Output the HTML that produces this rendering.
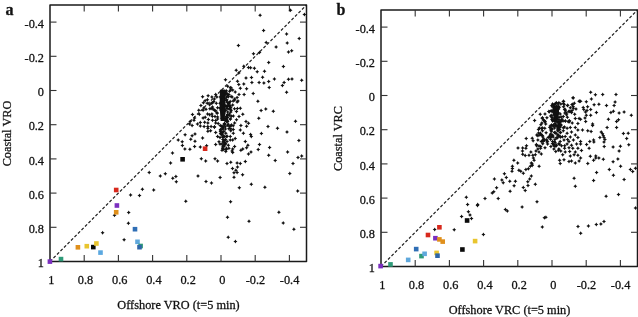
<!DOCTYPE html>
<html><head><meta charset="utf-8"><style>
html,body{margin:0;padding:0;background:#fff;width:638px;height:317px;overflow:hidden}
svg{display:block;will-change:transform} text{stroke:#111;stroke-width:0.28px}
</style></head><body>
<svg width="638" height="317" viewBox="0 0 638 317" font-family='"Liberation Serif", serif' font-size="12.3" fill="#111" stroke-linejoin="round">
<defs><path id="m" d="M0,-2 L0.75,-0.75 L2,0 L0.75,0.75 L0,2 L-0.75,0.75 L-2,0 L-0.75,-0.75Z" fill="#111"/></defs>
<line x1="50.00" y1="261.50" x2="306.50" y2="5.00" stroke="#1e1e1e" stroke-width="1.2" stroke-dasharray="3,1.95"/>
<rect x="50.0" y="5.0" width="256.5" height="256.5" fill="none" stroke="#1a1a1a" stroke-width="1.5"/>
<text x="44.0" y="267.1" text-anchor="end">1</text>
<text x="51.3" y="283.5" text-anchor="middle">1</text>
<line x1="84.2" y1="261.5" x2="84.2" y2="255.0" stroke="#333" stroke-width="1.1"/>
<line x1="84.2" y1="5.0" x2="84.2" y2="11.5" stroke="#333" stroke-width="1.1"/>
<line x1="50.0" y1="227.3" x2="56.5" y2="227.3" stroke="#333" stroke-width="1.1"/>
<line x1="306.5" y1="227.3" x2="300.0" y2="227.3" stroke="#333" stroke-width="1.1"/>
<text x="44.0" y="232.9" text-anchor="end">0.8</text>
<text x="85.5" y="283.5" text-anchor="middle">0.8</text>
<line x1="118.4" y1="261.5" x2="118.4" y2="255.0" stroke="#333" stroke-width="1.1"/>
<line x1="118.4" y1="5.0" x2="118.4" y2="11.5" stroke="#333" stroke-width="1.1"/>
<line x1="50.0" y1="193.1" x2="56.5" y2="193.1" stroke="#333" stroke-width="1.1"/>
<line x1="306.5" y1="193.1" x2="300.0" y2="193.1" stroke="#333" stroke-width="1.1"/>
<text x="44.0" y="198.7" text-anchor="end">0.6</text>
<text x="119.7" y="283.5" text-anchor="middle">0.6</text>
<line x1="152.6" y1="261.5" x2="152.6" y2="255.0" stroke="#333" stroke-width="1.1"/>
<line x1="152.6" y1="5.0" x2="152.6" y2="11.5" stroke="#333" stroke-width="1.1"/>
<line x1="50.0" y1="158.9" x2="56.5" y2="158.9" stroke="#333" stroke-width="1.1"/>
<line x1="306.5" y1="158.9" x2="300.0" y2="158.9" stroke="#333" stroke-width="1.1"/>
<text x="44.0" y="164.5" text-anchor="end">0.4</text>
<text x="153.9" y="283.5" text-anchor="middle">0.4</text>
<line x1="186.8" y1="261.5" x2="186.8" y2="255.0" stroke="#333" stroke-width="1.1"/>
<line x1="186.8" y1="5.0" x2="186.8" y2="11.5" stroke="#333" stroke-width="1.1"/>
<line x1="50.0" y1="124.7" x2="56.5" y2="124.7" stroke="#333" stroke-width="1.1"/>
<line x1="306.5" y1="124.7" x2="300.0" y2="124.7" stroke="#333" stroke-width="1.1"/>
<text x="44.0" y="130.3" text-anchor="end">0.2</text>
<text x="188.1" y="283.5" text-anchor="middle">0.2</text>
<line x1="221.0" y1="261.5" x2="221.0" y2="255.0" stroke="#333" stroke-width="1.1"/>
<line x1="221.0" y1="5.0" x2="221.0" y2="11.5" stroke="#333" stroke-width="1.1"/>
<line x1="50.0" y1="90.5" x2="56.5" y2="90.5" stroke="#333" stroke-width="1.1"/>
<line x1="306.5" y1="90.5" x2="300.0" y2="90.5" stroke="#333" stroke-width="1.1"/>
<text x="44.0" y="96.1" text-anchor="end">0</text>
<text x="222.3" y="283.5" text-anchor="middle">0</text>
<line x1="255.2" y1="261.5" x2="255.2" y2="255.0" stroke="#333" stroke-width="1.1"/>
<line x1="255.2" y1="5.0" x2="255.2" y2="11.5" stroke="#333" stroke-width="1.1"/>
<line x1="50.0" y1="56.3" x2="56.5" y2="56.3" stroke="#333" stroke-width="1.1"/>
<line x1="306.5" y1="56.3" x2="300.0" y2="56.3" stroke="#333" stroke-width="1.1"/>
<text x="44.0" y="61.9" text-anchor="end">-0.2</text>
<text x="255.4" y="283.5" text-anchor="middle">-0.2</text>
<line x1="289.4" y1="261.5" x2="289.4" y2="255.0" stroke="#333" stroke-width="1.1"/>
<line x1="289.4" y1="5.0" x2="289.4" y2="11.5" stroke="#333" stroke-width="1.1"/>
<line x1="50.0" y1="22.1" x2="56.5" y2="22.1" stroke="#333" stroke-width="1.1"/>
<line x1="306.5" y1="22.1" x2="300.0" y2="22.1" stroke="#333" stroke-width="1.1"/>
<text x="44.0" y="27.7" text-anchor="end">-0.4</text>
<text x="289.6" y="283.5" text-anchor="middle">-0.4</text>
<text x="178.5" y="308.6" text-anchor="middle">Offshore VRO (t=5 min)</text>
<text transform="translate(11.4,133.5) rotate(-90)" text-anchor="middle">Coastal VRO</text>
<text x="5.6" y="15.2" font-weight="bold" font-size="16">a</text>
<line x1="381.00" y1="266.50" x2="637.50" y2="10.00" stroke="#1e1e1e" stroke-width="1.2" stroke-dasharray="3,1.95"/>
<rect x="381.0" y="10.0" width="256.5" height="256.5" fill="none" stroke="#1a1a1a" stroke-width="1.5"/>
<text x="375.0" y="272.1" text-anchor="end">1</text>
<text x="382.3" y="288.5" text-anchor="middle">1</text>
<line x1="415.2" y1="266.5" x2="415.2" y2="260.0" stroke="#333" stroke-width="1.1"/>
<line x1="415.2" y1="10.0" x2="415.2" y2="16.5" stroke="#333" stroke-width="1.1"/>
<line x1="381.0" y1="232.3" x2="387.5" y2="232.3" stroke="#333" stroke-width="1.1"/>
<line x1="637.5" y1="232.3" x2="631.0" y2="232.3" stroke="#333" stroke-width="1.1"/>
<text x="375.0" y="237.9" text-anchor="end">0.8</text>
<text x="416.5" y="288.5" text-anchor="middle">0.8</text>
<line x1="449.4" y1="266.5" x2="449.4" y2="260.0" stroke="#333" stroke-width="1.1"/>
<line x1="449.4" y1="10.0" x2="449.4" y2="16.5" stroke="#333" stroke-width="1.1"/>
<line x1="381.0" y1="198.1" x2="387.5" y2="198.1" stroke="#333" stroke-width="1.1"/>
<line x1="637.5" y1="198.1" x2="631.0" y2="198.1" stroke="#333" stroke-width="1.1"/>
<text x="375.0" y="203.7" text-anchor="end">0.6</text>
<text x="450.7" y="288.5" text-anchor="middle">0.6</text>
<line x1="483.6" y1="266.5" x2="483.6" y2="260.0" stroke="#333" stroke-width="1.1"/>
<line x1="483.6" y1="10.0" x2="483.6" y2="16.5" stroke="#333" stroke-width="1.1"/>
<line x1="381.0" y1="163.9" x2="387.5" y2="163.9" stroke="#333" stroke-width="1.1"/>
<line x1="637.5" y1="163.9" x2="631.0" y2="163.9" stroke="#333" stroke-width="1.1"/>
<text x="375.0" y="169.5" text-anchor="end">0.4</text>
<text x="484.9" y="288.5" text-anchor="middle">0.4</text>
<line x1="517.8" y1="266.5" x2="517.8" y2="260.0" stroke="#333" stroke-width="1.1"/>
<line x1="517.8" y1="10.0" x2="517.8" y2="16.5" stroke="#333" stroke-width="1.1"/>
<line x1="381.0" y1="129.7" x2="387.5" y2="129.7" stroke="#333" stroke-width="1.1"/>
<line x1="637.5" y1="129.7" x2="631.0" y2="129.7" stroke="#333" stroke-width="1.1"/>
<text x="375.0" y="135.3" text-anchor="end">0.2</text>
<text x="519.1" y="288.5" text-anchor="middle">0.2</text>
<line x1="552.0" y1="266.5" x2="552.0" y2="260.0" stroke="#333" stroke-width="1.1"/>
<line x1="552.0" y1="10.0" x2="552.0" y2="16.5" stroke="#333" stroke-width="1.1"/>
<line x1="381.0" y1="95.5" x2="387.5" y2="95.5" stroke="#333" stroke-width="1.1"/>
<line x1="637.5" y1="95.5" x2="631.0" y2="95.5" stroke="#333" stroke-width="1.1"/>
<text x="375.0" y="101.1" text-anchor="end">0</text>
<text x="553.3" y="288.5" text-anchor="middle">0</text>
<line x1="586.2" y1="266.5" x2="586.2" y2="260.0" stroke="#333" stroke-width="1.1"/>
<line x1="586.2" y1="10.0" x2="586.2" y2="16.5" stroke="#333" stroke-width="1.1"/>
<line x1="381.0" y1="61.3" x2="387.5" y2="61.3" stroke="#333" stroke-width="1.1"/>
<line x1="637.5" y1="61.3" x2="631.0" y2="61.3" stroke="#333" stroke-width="1.1"/>
<text x="375.0" y="66.9" text-anchor="end">-0.2</text>
<text x="586.4" y="288.5" text-anchor="middle">-0.2</text>
<line x1="620.4" y1="266.5" x2="620.4" y2="260.0" stroke="#333" stroke-width="1.1"/>
<line x1="620.4" y1="10.0" x2="620.4" y2="16.5" stroke="#333" stroke-width="1.1"/>
<line x1="381.0" y1="27.1" x2="387.5" y2="27.1" stroke="#333" stroke-width="1.1"/>
<line x1="637.5" y1="27.1" x2="631.0" y2="27.1" stroke="#333" stroke-width="1.1"/>
<text x="375.0" y="32.7" text-anchor="end">-0.4</text>
<text x="620.6" y="288.5" text-anchor="middle">-0.4</text>
<text x="509.5" y="313.6" text-anchor="middle">Offshore VRC (t=5 min)</text>
<text transform="translate(342.4,138.5) rotate(-90)" text-anchor="middle">Coastal VRC</text>
<text x="336.6" y="14.9" font-weight="bold" font-size="16">b</text>
<g><polygon points="219.9,89.8 225,89.4 225.6,100 225.3,113 224.4,121 220.6,121 219.6,106" fill="#111"/><use href="#m" x="260.1" y="15.3"/><use href="#m" x="263.6" y="30.5"/><use href="#m" x="286.6" y="34.0"/><use href="#m" x="287.2" y="43.1"/><use href="#m" x="266.2" y="42.5"/><use href="#m" x="290.5" y="10.3"/><use href="#m" x="304.4" y="14.5"/><use href="#m" x="299.2" y="38.4"/><use href="#m" x="238.4" y="45.6"/><use href="#m" x="243.8" y="66.2"/><use href="#m" x="236.2" y="70.2"/><use href="#m" x="238.8" y="73.0"/><use href="#m" x="248.5" y="67.5"/><use href="#m" x="225.5" y="79.7"/><use href="#m" x="237.5" y="81.2"/><use href="#m" x="246.0" y="78.1"/><use href="#m" x="243.8" y="84.1"/><use href="#m" x="238.8" y="84.4"/><use href="#m" x="276.1" y="47.1"/><use href="#m" x="288.5" y="51.9"/><use href="#m" x="253.5" y="53.8"/><use href="#m" x="259.5" y="52.6"/><use href="#m" x="268.7" y="62.4"/><use href="#m" x="283.4" y="66.5"/><use href="#m" x="250.6" y="67.7"/><use href="#m" x="254.4" y="68.3"/><use href="#m" x="257.2" y="71.8"/><use href="#m" x="264.5" y="71.2"/><use href="#m" x="251.5" y="77.6"/><use href="#m" x="262.6" y="77.2"/><use href="#m" x="274.4" y="79.1"/><use href="#m" x="288.5" y="79.3"/><use href="#m" x="251.9" y="82.6"/><use href="#m" x="259.1" y="82.5"/><use href="#m" x="263.9" y="83.1"/><use href="#m" x="268.7" y="81.6"/><use href="#m" x="284.1" y="82.5"/><use href="#m" x="291.7" y="50.7"/><use href="#m" x="292.0" y="79.1"/><use href="#m" x="301.7" y="80.3"/><use href="#m" x="208.1" y="95.7"/><use href="#m" x="205.1" y="100.8"/><use href="#m" x="203.4" y="102.7"/><use href="#m" x="207.2" y="103.3"/><use href="#m" x="200.9" y="105.4"/><use href="#m" x="203.8" y="108.0"/><use href="#m" x="206.0" y="109.2"/><use href="#m" x="203.1" y="110.2"/><use href="#m" x="198.8" y="110.2"/><use href="#m" x="199.3" y="114.3"/><use href="#m" x="207.6" y="114.0"/><use href="#m" x="194.6" y="118.1"/><use href="#m" x="203.1" y="118.1"/><use href="#m" x="194.0" y="120.3"/><use href="#m" x="190.2" y="121.6"/><use href="#m" x="200.3" y="122.6"/><use href="#m" x="204.7" y="122.2"/><use href="#m" x="207.9" y="122.9"/><use href="#m" x="189.6" y="123.9"/><use href="#m" x="197.5" y="123.9"/><use href="#m" x="227.7" y="86.3"/><use href="#m" x="226.2" y="90.7"/><use href="#m" x="230.8" y="90.0"/><use href="#m" x="235.2" y="91.9"/><use href="#m" x="240.3" y="88.2"/><use href="#m" x="246.6" y="88.8"/><use href="#m" x="239.0" y="94.5"/><use href="#m" x="244.1" y="94.5"/><use href="#m" x="228.9" y="94.5"/><use href="#m" x="232.1" y="97.0"/><use href="#m" x="237.1" y="97.6"/><use href="#m" x="234.6" y="100.1"/><use href="#m" x="230.2" y="101.4"/><use href="#m" x="237.1" y="102.0"/><use href="#m" x="240.3" y="108.3"/><use href="#m" x="236.5" y="111.5"/><use href="#m" x="230.2" y="109.0"/><use href="#m" x="227.0" y="108.3"/><use href="#m" x="230.8" y="112.1"/><use href="#m" x="242.8" y="114.3"/><use href="#m" x="233.3" y="115.9"/><use href="#m" x="227.7" y="115.3"/><use href="#m" x="239.0" y="116.5"/><use href="#m" x="230.2" y="119.1"/><use href="#m" x="236.5" y="119.7"/><use href="#m" x="246.0" y="121.6"/><use href="#m" x="248.5" y="123.2"/><use href="#m" x="227.7" y="121.6"/><use href="#m" x="234.6" y="122.9"/><use href="#m" x="211.9" y="97.0"/><use href="#m" x="215.7" y="94.5"/><use href="#m" x="214.4" y="98.9"/><use href="#m" x="216.9" y="97.0"/><use href="#m" x="213.8" y="101.4"/><use href="#m" x="211.3" y="103.3"/><use href="#m" x="216.3" y="103.3"/><use href="#m" x="212.5" y="107.1"/><use href="#m" x="217.6" y="107.7"/><use href="#m" x="214.4" y="110.2"/><use href="#m" x="216.9" y="112.8"/><use href="#m" x="211.9" y="114.0"/><use href="#m" x="215.0" y="116.5"/><use href="#m" x="217.6" y="119.1"/><use href="#m" x="212.5" y="120.3"/><use href="#m" x="215.7" y="122.9"/><use href="#m" x="218.2" y="123.5"/><use href="#m" x="269.2" y="87.5"/><use href="#m" x="282.4" y="85.6"/><use href="#m" x="286.6" y="92.2"/><use href="#m" x="253.2" y="93.6"/><use href="#m" x="257.9" y="101.2"/><use href="#m" x="261.1" y="110.5"/><use href="#m" x="265.8" y="109.0"/><use href="#m" x="273.3" y="111.2"/><use href="#m" x="258.8" y="118.2"/><use href="#m" x="295.5" y="121.2"/><use href="#m" x="192.1" y="125.6"/><use href="#m" x="200.3" y="126.0"/><use href="#m" x="204.1" y="126.5"/><use href="#m" x="207.9" y="128.2"/><use href="#m" x="207.9" y="131.3"/><use href="#m" x="185.1" y="134.8"/><use href="#m" x="192.1" y="135.7"/><use href="#m" x="195.0" y="134.1"/><use href="#m" x="202.6" y="138.0"/><use href="#m" x="190.8" y="139.3"/><use href="#m" x="178.2" y="139.9"/><use href="#m" x="195.0" y="141.2"/><use href="#m" x="182.2" y="141.8"/><use href="#m" x="182.4" y="145.4"/><use href="#m" x="194.6" y="146.5"/><use href="#m" x="200.3" y="147.1"/><use href="#m" x="206.6" y="145.8"/><use href="#m" x="184.9" y="149.0"/><use href="#m" x="189.9" y="149.2"/><use href="#m" x="172.5" y="153.0"/><use href="#m" x="201.3" y="158.8"/><use href="#m" x="205.7" y="161.0"/><use href="#m" x="170.6" y="162.9"/><use href="#m" x="214.4" y="127.3"/><use href="#m" x="210.6" y="130.7"/><use href="#m" x="215.7" y="132.6"/><use href="#m" x="221.4" y="126.3"/><use href="#m" x="223.2" y="127.5"/><use href="#m" x="220.7" y="130.7"/><use href="#m" x="223.9" y="131.3"/><use href="#m" x="225.8" y="133.2"/><use href="#m" x="222.0" y="134.5"/><use href="#m" x="222.6" y="137.0"/><use href="#m" x="226.4" y="136.4"/><use href="#m" x="228.9" y="128.8"/><use href="#m" x="230.8" y="130.7"/><use href="#m" x="233.3" y="129.4"/><use href="#m" x="233.3" y="133.2"/><use href="#m" x="240.3" y="130.0"/><use href="#m" x="243.4" y="133.2"/><use href="#m" x="240.9" y="125.6"/><use href="#m" x="246.6" y="126.3"/><use href="#m" x="230.2" y="140.1"/><use href="#m" x="227.0" y="141.4"/><use href="#m" x="223.2" y="141.4"/><use href="#m" x="235.2" y="138.6"/><use href="#m" x="232.7" y="140.1"/><use href="#m" x="222.0" y="143.9"/><use href="#m" x="225.1" y="144.6"/><use href="#m" x="228.3" y="145.2"/><use href="#m" x="222.6" y="147.1"/><use href="#m" x="226.4" y="148.3"/><use href="#m" x="228.9" y="148.3"/><use href="#m" x="234.6" y="146.5"/><use href="#m" x="232.7" y="149.0"/><use href="#m" x="215.7" y="144.6"/><use href="#m" x="245.3" y="141.4"/><use href="#m" x="247.9" y="145.2"/><use href="#m" x="246.6" y="147.7"/><use href="#m" x="222.0" y="150.2"/><use href="#m" x="225.8" y="151.5"/><use href="#m" x="232.1" y="150.9"/><use href="#m" x="232.7" y="152.5"/><use href="#m" x="240.9" y="150.2"/><use href="#m" x="242.8" y="149.0"/><use href="#m" x="248.5" y="154.0"/><use href="#m" x="215.0" y="158.8"/><use href="#m" x="217.6" y="161.0"/><use href="#m" x="230.8" y="162.2"/><use href="#m" x="227.0" y="163.5"/><use href="#m" x="237.1" y="162.9"/><use href="#m" x="240.3" y="163.5"/><use href="#m" x="245.3" y="161.6"/><use href="#m" x="268.0" y="126.5"/><use href="#m" x="277.5" y="128.2"/><use href="#m" x="287.0" y="131.9"/><use href="#m" x="261.4" y="133.6"/><use href="#m" x="250.6" y="134.5"/><use href="#m" x="251.3" y="136.4"/><use href="#m" x="259.5" y="144.6"/><use href="#m" x="269.6" y="147.5"/><use href="#m" x="258.2" y="149.6"/><use href="#m" x="251.0" y="151.9"/><use href="#m" x="287.6" y="152.1"/><use href="#m" x="268.7" y="155.3"/><use href="#m" x="275.2" y="160.6"/><use href="#m" x="298.9" y="140.4"/><use href="#m" x="298.0" y="157.6"/><use href="#m" x="301.7" y="155.9"/><use href="#m" x="293.0" y="163.5"/><use href="#m" x="149.2" y="172.6"/><use href="#m" x="160.3" y="176.0"/><use href="#m" x="165.3" y="173.8"/><use href="#m" x="142.4" y="189.2"/><use href="#m" x="153.7" y="190.0"/><use href="#m" x="130.6" y="194.9"/><use href="#m" x="139.5" y="195.5"/><use href="#m" x="172.8" y="178.2"/><use href="#m" x="175.9" y="176.4"/><use href="#m" x="176.3" y="181.7"/><use href="#m" x="198.0" y="176.1"/><use href="#m" x="206.0" y="181.4"/><use href="#m" x="185.8" y="201.3"/><use href="#m" x="232.5" y="168.5"/><use href="#m" x="237.5" y="166.9"/><use href="#m" x="235.9" y="170.3"/><use href="#m" x="234.0" y="172.8"/><use href="#m" x="237.1" y="172.6"/><use href="#m" x="242.6" y="174.8"/><use href="#m" x="234.0" y="177.2"/><use href="#m" x="220.1" y="177.6"/><use href="#m" x="211.5" y="183.0"/><use href="#m" x="239.3" y="187.7"/><use href="#m" x="230.6" y="201.8"/><use href="#m" x="251.3" y="184.2"/><use href="#m" x="264.9" y="187.3"/><use href="#m" x="289.8" y="173.6"/><use href="#m" x="297.7" y="190.9"/><use href="#m" x="102.6" y="232.8"/><use href="#m" x="114.5" y="215.3"/><use href="#m" x="128.7" y="212.6"/><use href="#m" x="128.4" y="223.3"/><use href="#m" x="124.1" y="239.7"/><use href="#m" x="227.5" y="217.2"/><use href="#m" x="249.0" y="221.2"/><use href="#m" x="228.2" y="237.3"/><use href="#m" x="235.4" y="241.5"/><use href="#m" x="278.9" y="212.3"/><use href="#m" x="283.2" y="223.1"/><use href="#m" x="293.9" y="229.2"/><use href="#m" x="213.0" y="109.0"/><use href="#m" x="212.3" y="116.2"/><use href="#m" x="217.6" y="117.0"/><use href="#m" x="215.7" y="120.4"/><use href="#m" x="211.1" y="126.5"/><use href="#m" x="214.5" y="126.8"/><use href="#m" x="217.2" y="113.2"/><use href="#m" x="227.4" y="115.8"/><use href="#m" x="230.5" y="118.9"/><use href="#m" x="228.2" y="124.2"/><use href="#m" x="229.0" y="109.0"/><use href="#m" x="230.8" y="128.7"/><use href="#m" x="226.5" y="100.5"/><use href="#m" x="228.5" y="103.5"/><use href="#m" x="226.0" y="106.0"/><use href="#m" x="229.5" y="106.5"/><use href="#m" x="225.5" y="110.5"/><use href="#m" x="226.5" y="97.0"/><use href="#m" x="225.8" y="93.5"/><use href="#m" x="224.2" y="113.1"/><use href="#m" x="224.5" y="98.4"/><use href="#m" x="220.7" y="109.9"/><use href="#m" x="222.3" y="113.9"/><use href="#m" x="222.6" y="115.2"/><use href="#m" x="222.5" y="103.6"/><use href="#m" x="222.3" y="103.9"/><use href="#m" x="222.2" y="111.9"/><use href="#m" x="222.8" y="117.1"/><use href="#m" x="225.9" y="91.9"/><use href="#m" x="224.1" y="118.2"/><use href="#m" x="222.6" y="102.1"/><use href="#m" x="222.6" y="91.8"/><use href="#m" x="223.8" y="97.4"/><use href="#m" x="220.7" y="97.8"/><use href="#m" x="223.0" y="97.7"/><use href="#m" x="222.6" y="99.4"/><use href="#m" x="223.9" y="91.6"/><use href="#m" x="223.3" y="109.6"/><use href="#m" x="220.7" y="96.4"/><use href="#m" x="225.3" y="94.5"/><use href="#m" x="222.2" y="100.6"/><use href="#m" x="221.9" y="118.2"/><use href="#m" x="220.0" y="103.2"/><use href="#m" x="223.4" y="99.8"/><use href="#m" x="220.3" y="108.0"/><use href="#m" x="224.4" y="105.7"/><use href="#m" x="220.3" y="108.1"/><use href="#m" x="223.4" y="114.1"/><use href="#m" x="222.5" y="103.0"/><use href="#m" x="224.3" y="140.5"/><use href="#m" x="225.5" y="139.6"/><use href="#m" x="221.3" y="134.3"/><use href="#m" x="224.7" y="142.9"/><use href="#m" x="220.8" y="133.7"/><use href="#m" x="222.7" y="118.9"/><use href="#m" x="226.3" y="149.5"/><use href="#m" x="223.9" y="137.0"/><use href="#m" x="221.9" y="134.1"/><use href="#m" x="223.8" y="149.4"/><use href="#m" x="223.4" y="145.5"/><use href="#m" x="220.3" y="125.4"/><use href="#m" x="217.6" y="136.5"/><use href="#m" x="222.5" y="132.7"/><use href="#m" x="222.7" y="148.6"/><use href="#m" x="225.8" y="118.2"/><use href="#m" x="223.9" y="146.4"/><use href="#m" x="219.0" y="141.7"/><use href="#m" x="224.0" y="136.0"/><use href="#m" x="220.5" y="131.6"/><use href="#m" x="227.2" y="136.2"/><use href="#m" x="224.5" y="124.4"/><use href="#m" x="220.5" y="129.4"/><use href="#m" x="222.9" y="129.1"/><use href="#m" x="220.0" y="137.6"/><use href="#m" x="222.3" y="132.7"/><use href="#m" x="224.6" y="123.7"/><use href="#m" x="223.3" y="136.7"/><use href="#m" x="225.5" y="143.5"/><use href="#m" x="220.0" y="144.1"/><use href="#m" x="222.9" y="139.5"/><use href="#m" x="227.2" y="120.7"/><use href="#m" x="223.4" y="142.2"/><use href="#m" x="223.0" y="126.0"/><use href="#m" x="225.4" y="129.0"/><use href="#m" x="225.0" y="120.2"/><use href="#m" x="224.4" y="123.4"/><use href="#m" x="225.3" y="126.7"/><use href="#m" x="222.4" y="128.3"/><use href="#m" x="220.6" y="133.2"/><use href="#m" x="231.4" y="116.2"/><use href="#m" x="227.6" y="117.5"/><use href="#m" x="233.2" y="125.8"/><use href="#m" x="227.3" y="114.7"/><use href="#m" x="225.4" y="105.9"/><use href="#m" x="229.5" y="115.2"/><use href="#m" x="231.4" y="125.1"/><use href="#m" x="231.1" y="125.6"/><use href="#m" x="227.6" y="106.0"/><use href="#m" x="230.3" y="136.4"/><use href="#m" x="229.9" y="105.8"/><use href="#m" x="229.6" y="126.4"/><use href="#m" x="226.4" y="121.4"/><use href="#m" x="227.5" y="125.2"/><use href="#m" x="230.3" y="106.1"/><use href="#m" x="233.1" y="101.1"/><use href="#m" x="226.9" y="117.0"/><use href="#m" x="226.5" y="119.4"/><use href="#m" x="228.4" y="96.7"/><use href="#m" x="228.5" y="104.9"/><use href="#m" x="229.0" y="102.7"/><use href="#m" x="231.0" y="87.8"/><use href="#m" x="227.2" y="102.2"/><use href="#m" x="232.7" y="90.1"/><use href="#m" x="227.7" y="96.0"/><use href="#m" x="227.0" y="108.5"/><use href="#m" x="229.4" y="114.1"/><use href="#m" x="227.1" y="105.9"/><use href="#m" x="231.2" y="110.3"/><use href="#m" x="227.7" y="111.9"/><use href="#m" x="226.4" y="116.6"/><use href="#m" x="228.9" y="103.2"/><use href="#m" x="208.4" y="119.6"/><use href="#m" x="215.7" y="110.7"/><use href="#m" x="205.2" y="117.3"/><use href="#m" x="202.6" y="96.7"/><use href="#m" x="211.2" y="108.6"/><use href="#m" x="212.6" y="102.8"/><use href="#m" x="192.5" y="114.5"/><use href="#m" x="207.8" y="126.4"/><use href="#m" x="209.6" y="114.8"/><use href="#m" x="209.9" y="108.7"/><use href="#m" x="207.4" y="99.8"/><use href="#m" x="209.6" y="104.8"/><use href="#m" x="230.7" y="107.5"/><use href="#m" x="234.7" y="99.0"/><use href="#m" x="238.0" y="101.0"/><use href="#m" x="234.5" y="108.8"/><use href="#m" x="232.7" y="104.9"/><use href="#m" x="237.4" y="108.5"/><use href="#m" x="230.3" y="87.7"/><use href="#m" x="226.8" y="99.7"/><use href="#m" x="229.6" y="91.2"/><use href="#m" x="227.1" y="93.8"/><use href="#m" x="231.1" y="96.5"/></g>
<g><polygon points="553,106 557,105 559,110 558.5,120 554,120 552.5,112" fill="#111"/><use href="#m" x="573.1" y="98.0"/><use href="#m" x="563.3" y="101.4"/><use href="#m" x="579.1" y="101.2"/><use href="#m" x="567.8" y="105.2"/><use href="#m" x="572.2" y="104.6"/><use href="#m" x="573.4" y="108.3"/><use href="#m" x="570.3" y="107.7"/><use href="#m" x="576.0" y="109.0"/><use href="#m" x="569.0" y="111.5"/><use href="#m" x="574.7" y="114.3"/><use href="#m" x="564.6" y="109.6"/><use href="#m" x="566.5" y="114.7"/><use href="#m" x="575.3" y="118.4"/><use href="#m" x="579.1" y="118.4"/><use href="#m" x="569.0" y="121.0"/><use href="#m" x="572.2" y="122.9"/><use href="#m" x="577.9" y="123.5"/><use href="#m" x="545.0" y="114.0"/><use href="#m" x="542.5" y="117.8"/><use href="#m" x="546.9" y="117.8"/><use href="#m" x="545.0" y="121.6"/><use href="#m" x="541.9" y="122.9"/><use href="#m" x="548.8" y="111.5"/><use href="#m" x="552.6" y="103.9"/><use href="#m" x="556.4" y="102.7"/><use href="#m" x="590.7" y="92.2"/><use href="#m" x="595.4" y="94.7"/><use href="#m" x="602.7" y="94.5"/><use href="#m" x="616.0" y="94.5"/><use href="#m" x="591.4" y="99.1"/><use href="#m" x="580.6" y="101.2"/><use href="#m" x="586.3" y="101.7"/><use href="#m" x="615.1" y="102.0"/><use href="#m" x="594.1" y="104.8"/><use href="#m" x="598.9" y="104.2"/><use href="#m" x="606.5" y="105.4"/><use href="#m" x="614.1" y="105.4"/><use href="#m" x="583.2" y="107.5"/><use href="#m" x="587.6" y="106.7"/><use href="#m" x="583.8" y="109.5"/><use href="#m" x="587.0" y="110.5"/><use href="#m" x="585.5" y="112.0"/><use href="#m" x="590.7" y="109.6"/><use href="#m" x="596.4" y="112.5"/><use href="#m" x="610.9" y="112.5"/><use href="#m" x="613.4" y="111.2"/><use href="#m" x="619.1" y="113.0"/><use href="#m" x="586.3" y="115.3"/><use href="#m" x="590.7" y="115.3"/><use href="#m" x="580.6" y="119.3"/><use href="#m" x="585.0" y="118.1"/><use href="#m" x="585.7" y="121.6"/><use href="#m" x="608.4" y="119.3"/><use href="#m" x="616.6" y="121.6"/><use href="#m" x="618.5" y="119.7"/><use href="#m" x="592.6" y="124.1"/><use href="#m" x="573.1" y="97.7"/><use href="#m" x="624.1" y="112.1"/><use href="#m" x="631.3" y="115.3"/><use href="#m" x="526.2" y="138.5"/><use href="#m" x="532.2" y="138.2"/><use href="#m" x="533.1" y="140.8"/><use href="#m" x="537.9" y="135.7"/><use href="#m" x="538.5" y="129.4"/><use href="#m" x="537.9" y="140.1"/><use href="#m" x="518.0" y="148.1"/><use href="#m" x="522.7" y="148.1"/><use href="#m" x="526.5" y="145.8"/><use href="#m" x="525.9" y="148.3"/><use href="#m" x="522.5" y="150.9"/><use href="#m" x="536.6" y="145.8"/><use href="#m" x="537.9" y="149.0"/><use href="#m" x="536.0" y="150.9"/><use href="#m" x="530.9" y="152.1"/><use href="#m" x="522.7" y="154.3"/><use href="#m" x="525.2" y="155.5"/><use href="#m" x="529.0" y="155.3"/><use href="#m" x="532.8" y="155.3"/><use href="#m" x="535.3" y="154.7"/><use href="#m" x="533.4" y="158.1"/><use href="#m" x="534.1" y="160.3"/><use href="#m" x="513.9" y="160.3"/><use href="#m" x="517.7" y="162.9"/><use href="#m" x="531.3" y="162.9"/><use href="#m" x="532.2" y="164.1"/><use href="#m" x="539.0" y="146.0"/><use href="#m" x="539.0" y="152.0"/><use href="#m" x="542.5" y="130.7"/><use href="#m" x="541.3" y="135.1"/><use href="#m" x="543.8" y="138.9"/><use href="#m" x="541.3" y="141.4"/><use href="#m" x="548.2" y="137.6"/><use href="#m" x="550.7" y="134.5"/><use href="#m" x="555.1" y="132.6"/><use href="#m" x="557.7" y="135.1"/><use href="#m" x="560.2" y="132.6"/><use href="#m" x="563.3" y="130.7"/><use href="#m" x="567.1" y="128.2"/><use href="#m" x="570.3" y="127.5"/><use href="#m" x="575.3" y="127.5"/><use href="#m" x="577.9" y="130.0"/><use href="#m" x="571.5" y="131.9"/><use href="#m" x="567.1" y="133.2"/><use href="#m" x="565.2" y="136.4"/><use href="#m" x="570.3" y="137.0"/><use href="#m" x="575.3" y="135.1"/><use href="#m" x="577.9" y="137.6"/><use href="#m" x="573.4" y="140.1"/><use href="#m" x="569.0" y="141.4"/><use href="#m" x="564.0" y="140.1"/><use href="#m" x="560.2" y="141.4"/><use href="#m" x="555.1" y="142.7"/><use href="#m" x="552.6" y="141.4"/><use href="#m" x="547.6" y="143.9"/><use href="#m" x="567.1" y="143.9"/><use href="#m" x="571.5" y="145.2"/><use href="#m" x="576.6" y="143.9"/><use href="#m" x="556.4" y="145.8"/><use href="#m" x="561.5" y="145.8"/><use href="#m" x="545.0" y="147.7"/><use href="#m" x="540.6" y="148.3"/><use href="#m" x="553.9" y="149.0"/><use href="#m" x="558.9" y="149.0"/><use href="#m" x="564.6" y="148.3"/><use href="#m" x="569.0" y="147.7"/><use href="#m" x="572.8" y="148.3"/><use href="#m" x="577.9" y="148.3"/><use href="#m" x="555.8" y="151.5"/><use href="#m" x="560.8" y="150.9"/><use href="#m" x="565.2" y="152.1"/><use href="#m" x="569.7" y="151.5"/><use href="#m" x="575.3" y="152.1"/><use href="#m" x="541.3" y="154.0"/><use href="#m" x="562.7" y="154.7"/><use href="#m" x="570.3" y="155.9"/><use href="#m" x="574.1" y="154.7"/><use href="#m" x="577.9" y="155.3"/><use href="#m" x="559.6" y="160.3"/><use href="#m" x="564.0" y="159.7"/><use href="#m" x="569.0" y="161.6"/><use href="#m" x="571.5" y="161.0"/><use href="#m" x="575.3" y="162.9"/><use href="#m" x="579.1" y="161.0"/><use href="#m" x="560.2" y="163.5"/><use href="#m" x="607.1" y="127.5"/><use href="#m" x="616.6" y="127.5"/><use href="#m" x="582.5" y="130.0"/><use href="#m" x="587.8" y="130.7"/><use href="#m" x="591.1" y="131.6"/><use href="#m" x="601.2" y="131.9"/><use href="#m" x="602.5" y="133.8"/><use href="#m" x="603.3" y="135.7"/><use href="#m" x="599.9" y="137.6"/><use href="#m" x="604.0" y="137.6"/><use href="#m" x="604.9" y="139.5"/><use href="#m" x="604.0" y="142.0"/><use href="#m" x="593.6" y="139.9"/><use href="#m" x="593.9" y="142.0"/><use href="#m" x="589.8" y="141.4"/><use href="#m" x="580.6" y="141.4"/><use href="#m" x="580.6" y="143.9"/><use href="#m" x="586.6" y="144.6"/><use href="#m" x="604.2" y="146.5"/><use href="#m" x="613.1" y="147.1"/><use href="#m" x="589.1" y="148.3"/><use href="#m" x="581.5" y="150.5"/><use href="#m" x="619.1" y="150.9"/><use href="#m" x="590.3" y="156.3"/><use href="#m" x="595.8" y="155.9"/><use href="#m" x="595.8" y="158.1"/><use href="#m" x="598.9" y="158.1"/><use href="#m" x="580.6" y="158.1"/><use href="#m" x="593.6" y="160.3"/><use href="#m" x="603.3" y="159.3"/><use href="#m" x="617.9" y="159.1"/><use href="#m" x="613.1" y="161.8"/><use href="#m" x="587.8" y="163.5"/><use href="#m" x="592.6" y="125.6"/><use href="#m" x="623.4" y="133.6"/><use href="#m" x="628.2" y="133.2"/><use href="#m" x="626.7" y="138.5"/><use href="#m" x="628.8" y="144.8"/><use href="#m" x="620.4" y="146.2"/><use href="#m" x="494.4" y="179.1"/><use href="#m" x="496.6" y="187.7"/><use href="#m" x="492.2" y="193.0"/><use href="#m" x="493.8" y="191.8"/><use href="#m" x="466.3" y="197.2"/><use href="#m" x="485.0" y="198.4"/><use href="#m" x="498.2" y="198.4"/><use href="#m" x="467.6" y="204.4"/><use href="#m" x="477.7" y="204.4"/><use href="#m" x="512.4" y="166.3"/><use href="#m" x="512.4" y="168.5"/><use href="#m" x="512.0" y="171.3"/><use href="#m" x="518.9" y="170.3"/><use href="#m" x="520.8" y="171.3"/><use href="#m" x="523.3" y="173.2"/><use href="#m" x="525.9" y="169.4"/><use href="#m" x="528.4" y="168.8"/><use href="#m" x="530.3" y="166.3"/><use href="#m" x="532.2" y="165.6"/><use href="#m" x="539.1" y="166.3"/><use href="#m" x="504.4" y="173.8"/><use href="#m" x="506.3" y="177.6"/><use href="#m" x="501.9" y="180.1"/><use href="#m" x="503.2" y="182.7"/><use href="#m" x="509.8" y="181.2"/><use href="#m" x="515.4" y="181.2"/><use href="#m" x="531.3" y="176.1"/><use href="#m" x="529.7" y="179.1"/><use href="#m" x="527.8" y="181.8"/><use href="#m" x="514.1" y="185.8"/><use href="#m" x="528.0" y="185.4"/><use href="#m" x="535.3" y="184.3"/><use href="#m" x="523.3" y="187.5"/><use href="#m" x="525.2" y="190.5"/><use href="#m" x="510.1" y="191.2"/><use href="#m" x="537.0" y="201.8"/><use href="#m" x="574.1" y="178.2"/><use href="#m" x="575.3" y="186.2"/><use href="#m" x="620.6" y="166.3"/><use href="#m" x="609.3" y="169.4"/><use href="#m" x="630.4" y="169.4"/><use href="#m" x="632.7" y="171.6"/><use href="#m" x="635.5" y="168.2"/><use href="#m" x="596.6" y="172.6"/><use href="#m" x="613.4" y="175.3"/><use href="#m" x="593.6" y="180.5"/><use href="#m" x="624.1" y="179.5"/><use href="#m" x="606.1" y="196.3"/><use href="#m" x="618.5" y="194.4"/><use href="#m" x="477.5" y="205.5"/><use href="#m" x="468.4" y="211.8"/><use href="#m" x="470.0" y="215.0"/><use href="#m" x="471.5" y="218.6"/><use href="#m" x="461.6" y="216.6"/><use href="#m" x="454.2" y="229.7"/><use href="#m" x="483.4" y="234.4"/><use href="#m" x="434.7" y="229.6"/><use href="#m" x="505.4" y="209.4"/><use href="#m" x="507.3" y="211.0"/><use href="#m" x="522.1" y="206.9"/><use href="#m" x="542.3" y="227.1"/><use href="#m" x="544.4" y="217.7"/><use href="#m" x="545.9" y="217.3"/><use href="#m" x="578.0" y="226.5"/><use href="#m" x="580.7" y="233.3"/><use href="#m" x="588.4" y="226.0"/><use href="#m" x="596.3" y="224.4"/><use href="#m" x="600.9" y="224.0"/><use href="#m" x="604.0" y="221.5"/><use href="#m" x="635.5" y="207.9"/><use href="#m" x="534.6" y="120.6"/><use href="#m" x="540.9" y="124.8"/><use href="#m" x="542.6" y="128.1"/><use href="#m" x="539.3" y="128.1"/><use href="#m" x="563.6" y="101.3"/><use href="#m" x="579.7" y="101.3"/><use href="#m" x="558.9" y="102.7"/><use href="#m" x="555.6" y="103.6"/><use href="#m" x="567.4" y="105.5"/><use href="#m" x="572.2" y="104.6"/><use href="#m" x="573.1" y="106.5"/><use href="#m" x="564.2" y="104.4"/><use href="#m" x="553.7" y="105.1"/><use href="#m" x="558.9" y="119.7"/><use href="#m" x="551.1" y="110.7"/><use href="#m" x="552.2" y="117.5"/><use href="#m" x="553.0" y="107.0"/><use href="#m" x="552.8" y="121.1"/><use href="#m" x="557.5" y="127.9"/><use href="#m" x="560.2" y="114.1"/><use href="#m" x="554.6" y="109.7"/><use href="#m" x="556.8" y="114.6"/><use href="#m" x="556.2" y="111.0"/><use href="#m" x="550.6" y="116.1"/><use href="#m" x="561.1" y="117.0"/><use href="#m" x="556.1" y="111.1"/><use href="#m" x="556.8" y="106.4"/><use href="#m" x="543.3" y="119.9"/><use href="#m" x="555.2" y="107.5"/><use href="#m" x="560.9" y="121.4"/><use href="#m" x="552.1" y="125.7"/><use href="#m" x="556.5" y="111.8"/><use href="#m" x="549.8" y="127.5"/><use href="#m" x="558.0" y="121.9"/><use href="#m" x="555.5" y="120.9"/><use href="#m" x="551.8" y="115.3"/><use href="#m" x="557.0" y="126.1"/><use href="#m" x="549.4" y="111.8"/><use href="#m" x="556.0" y="125.1"/><use href="#m" x="559.1" y="117.2"/><use href="#m" x="553.7" y="126.0"/><use href="#m" x="555.3" y="108.5"/><use href="#m" x="552.0" y="111.1"/><use href="#m" x="555.3" y="125.7"/><use href="#m" x="554.0" y="109.7"/><use href="#m" x="558.6" y="126.9"/><use href="#m" x="554.4" y="120.7"/><use href="#m" x="551.8" y="119.3"/><use href="#m" x="555.9" y="117.7"/><use href="#m" x="555.1" y="115.8"/><use href="#m" x="558.2" y="126.4"/><use href="#m" x="555.0" y="123.5"/><use href="#m" x="555.0" y="121.1"/><use href="#m" x="557.9" y="121.6"/><use href="#m" x="554.7" y="104.5"/><use href="#m" x="554.4" y="108.7"/><use href="#m" x="553.7" y="124.9"/><use href="#m" x="559.3" y="124.3"/><use href="#m" x="558.6" y="109.1"/><use href="#m" x="557.8" y="113.6"/><use href="#m" x="563.0" y="120.9"/><use href="#m" x="559.3" y="107.3"/><use href="#m" x="556.7" y="119.8"/><use href="#m" x="563.5" y="103.6"/><use href="#m" x="560.3" y="121.2"/><use href="#m" x="558.7" y="123.3"/><use href="#m" x="556.4" y="106.9"/><use href="#m" x="558.2" y="112.6"/><use href="#m" x="560.9" y="104.1"/><use href="#m" x="558.0" y="103.9"/><use href="#m" x="555.9" y="111.6"/><use href="#m" x="551.7" y="105.8"/><use href="#m" x="552.2" y="111.4"/><use href="#m" x="559.7" y="122.1"/><use href="#m" x="556.7" y="121.5"/><use href="#m" x="560.8" y="124.6"/><use href="#m" x="552.6" y="120.6"/><use href="#m" x="553.5" y="119.5"/><use href="#m" x="556.4" y="110.9"/><use href="#m" x="559.1" y="124.9"/><use href="#m" x="558.3" y="106.2"/><use href="#m" x="552.7" y="135.3"/><use href="#m" x="554.5" y="127.9"/><use href="#m" x="560.7" y="137.1"/><use href="#m" x="556.0" y="133.4"/><use href="#m" x="563.3" y="127.8"/><use href="#m" x="557.7" y="126.1"/><use href="#m" x="559.9" y="126.9"/><use href="#m" x="557.6" y="137.7"/><use href="#m" x="542.7" y="143.7"/><use href="#m" x="556.3" y="144.9"/><use href="#m" x="557.6" y="130.0"/><use href="#m" x="562.4" y="136.8"/><use href="#m" x="550.6" y="139.2"/><use href="#m" x="550.7" y="130.1"/><use href="#m" x="551.6" y="125.1"/><use href="#m" x="559.8" y="125.7"/><use href="#m" x="555.0" y="139.5"/><use href="#m" x="558.3" y="129.8"/><use href="#m" x="559.6" y="129.6"/><use href="#m" x="558.9" y="129.3"/><use href="#m" x="551.5" y="131.2"/><use href="#m" x="556.3" y="137.8"/><use href="#m" x="559.5" y="144.3"/><use href="#m" x="567.6" y="139.6"/><use href="#m" x="551.5" y="136.6"/><use href="#m" x="559.4" y="126.0"/><use href="#m" x="551.7" y="128.6"/><use href="#m" x="560.0" y="126.9"/><use href="#m" x="558.6" y="135.4"/><use href="#m" x="552.5" y="143.4"/><use href="#m" x="553.8" y="144.7"/><use href="#m" x="554.4" y="132.4"/><use href="#m" x="564.5" y="127.0"/><use href="#m" x="557.9" y="131.1"/><use href="#m" x="561.0" y="125.3"/><use href="#m" x="550.7" y="134.0"/><use href="#m" x="552.1" y="129.2"/><use href="#m" x="560.1" y="136.8"/><use href="#m" x="560.7" y="132.5"/><use href="#m" x="558.8" y="143.7"/><use href="#m" x="549.5" y="136.2"/><use href="#m" x="546.4" y="139.7"/><use href="#m" x="542.4" y="135.6"/><use href="#m" x="545.1" y="122.0"/><use href="#m" x="546.1" y="132.8"/><use href="#m" x="550.1" y="137.6"/><use href="#m" x="540.2" y="114.3"/><use href="#m" x="544.8" y="128.3"/><use href="#m" x="542.2" y="118.3"/><use href="#m" x="544.4" y="120.7"/><use href="#m" x="542.9" y="136.9"/><use href="#m" x="545.7" y="124.0"/><use href="#m" x="541.6" y="128.5"/><use href="#m" x="550.2" y="125.9"/><use href="#m" x="572.1" y="110.5"/><use href="#m" x="565.3" y="120.9"/><use href="#m" x="563.3" y="116.4"/><use href="#m" x="561.3" y="120.6"/><use href="#m" x="570.1" y="111.4"/><use href="#m" x="566.7" y="113.1"/><use href="#m" x="558.4" y="135.2"/><use href="#m" x="568.2" y="121.8"/><use href="#m" x="567.4" y="117.2"/><use href="#m" x="574.3" y="103.2"/><use href="#m" x="564.9" y="113.1"/><use href="#m" x="565.3" y="120.9"/><use href="#m" x="563.5" y="106.7"/><use href="#m" x="562.0" y="119.2"/><use href="#m" x="569.3" y="121.7"/><use href="#m" x="571.6" y="112.4"/><use href="#m" x="569.5" y="120.8"/><use href="#m" x="565.4" y="110.7"/><use href="#m" x="569.1" y="111.2"/><use href="#m" x="565.0" y="109.2"/><use href="#m" x="564.7" y="145.8"/><use href="#m" x="553.5" y="145.0"/><use href="#m" x="554.9" y="146.4"/><use href="#m" x="547.5" y="141.3"/><use href="#m" x="558.5" y="150.3"/><use href="#m" x="550.9" y="146.4"/><use href="#m" x="553.1" y="136.9"/><use href="#m" x="554.4" y="141.7"/><use href="#m" x="542.6" y="140.2"/><use href="#m" x="539.9" y="135.1"/><use href="#m" x="540.4" y="133.2"/><use href="#m" x="540.7" y="146.5"/><use href="#m" x="536.4" y="144.4"/><use href="#m" x="544.2" y="140.2"/><use href="#m" x="543.3" y="141.3"/><use href="#m" x="538.5" y="133.0"/><use href="#m" x="536.8" y="135.0"/><use href="#m" x="547.1" y="142.0"/></g>
<rect x="47.6" y="259.3" width="4.6" height="4.6" fill="#7b2fc0"/><rect x="58.7" y="256.8" width="4.6" height="4.6" fill="#2e9a78"/><rect x="75.6" y="245.0" width="4.6" height="4.6" fill="#e0901c"/><rect x="84.5" y="243.9" width="4.6" height="4.6" fill="#e9c52e"/><rect x="91.0" y="244.8" width="4.6" height="4.6" fill="#0a0a0a"/><rect x="94.1" y="241.2" width="4.6" height="4.6" fill="#e9c52e"/><rect x="98.2" y="250.3" width="4.6" height="4.6" fill="#5ba8e0"/><rect x="113.9" y="187.7" width="4.6" height="4.6" fill="#d8281c"/><rect x="114.6" y="203.2" width="4.6" height="4.6" fill="#7b2fc0"/><rect x="113.9" y="210.0" width="4.6" height="4.6" fill="#e0901c"/><rect x="132.7" y="226.9" width="4.6" height="4.6" fill="#2f6eb5"/><rect x="135.2" y="239.5" width="4.6" height="4.6" fill="#5fa8dc"/><rect x="138.3" y="243.7" width="4.6" height="4.6" fill="#2e9a78"/><rect x="137.2" y="244.9" width="4.6" height="4.6" fill="#2e66a8"/><rect x="202.8" y="146.4" width="4.6" height="4.6" fill="#d8281c"/><rect x="180.3" y="157.0" width="4.6" height="4.6" fill="#0a0a0a"/><rect x="378.3" y="263.8" width="4.6" height="4.6" fill="#7b2fc0"/><rect x="388.2" y="262.1" width="4.6" height="4.6" fill="#2e9a78"/><rect x="405.9" y="257.6" width="4.6" height="4.6" fill="#5fa8dc"/><rect x="413.9" y="246.8" width="4.6" height="4.6" fill="#2f6eb5"/><rect x="419.2" y="253.8" width="4.6" height="4.6" fill="#2e9a78"/><rect x="422.3" y="251.5" width="4.6" height="4.6" fill="#5fa8dc"/><rect x="434.3" y="250.6" width="4.6" height="4.6" fill="#e9c52e"/><rect x="435.2" y="253.4" width="4.6" height="4.6" fill="#2e66a8"/><rect x="437.1" y="225.0" width="4.6" height="4.6" fill="#d8281c"/><rect x="425.7" y="232.7" width="4.6" height="4.6" fill="#d8281c"/><rect x="433.1" y="235.9" width="4.6" height="4.6" fill="#7b2fc0"/><rect x="437.1" y="237.1" width="4.6" height="4.6" fill="#e0901c"/><rect x="440.4" y="239.3" width="4.6" height="4.6" fill="#e0901c"/><rect x="464.8" y="218.2" width="4.6" height="4.6" fill="#0a0a0a"/><rect x="460.1" y="247.2" width="4.6" height="4.6" fill="#0a0a0a"/><rect x="472.8" y="238.8" width="4.6" height="4.6" fill="#e9c52e"/>
</svg>
</body></html>
